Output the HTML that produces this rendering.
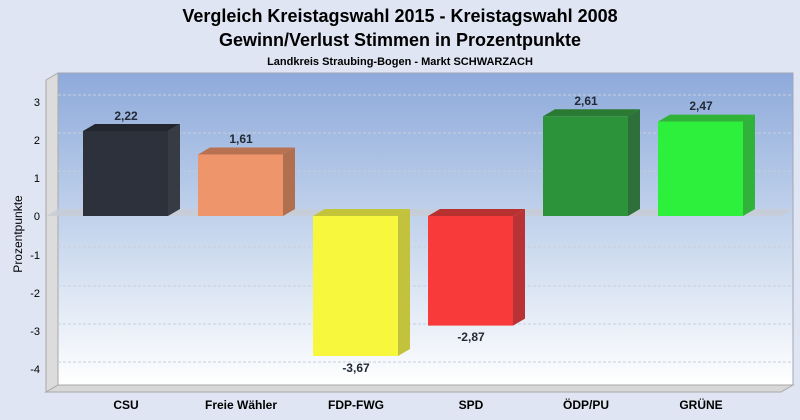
<!DOCTYPE html>
<html><head><meta charset="utf-8"><style>
body{margin:0;background:#dfe5f3;}
svg{display:block;font-family:"Liberation Sans",sans-serif;}
</style></head><body>
<svg width="800" height="420" xmlns="http://www.w3.org/2000/svg">
<defs>
<linearGradient id="bg" x1="0" y1="0" x2="0" y2="1">
<stop offset="0" stop-color="#8eaadb"/><stop offset="0.5" stop-color="#c5d5ec"/><stop offset="1" stop-color="#ffffff"/>
</linearGradient>
</defs>
<rect width="800" height="420" fill="#dfe5f3"/>
<text x="400" y="22" text-anchor="middle" font-size="18" font-weight="bold" fill="#000">Vergleich Kreistagswahl 2015 - Kreistagswahl 2008</text>
<text x="400" y="46" text-anchor="middle" font-size="18" font-weight="bold" fill="#000">Gewinn/Verlust Stimmen in Prozentpunkte</text>
<text x="400" y="65" text-anchor="middle" font-size="11" font-weight="bold" fill="#000">Landkreis Straubing-Bogen - Markt SCHWARZACH</text>
<!-- back plane -->
<rect x="58" y="73" width="735" height="312" fill="url(#bg)" stroke="#a0a8b8" stroke-width="1"/>
<!-- left wall -->
<polygon points="46,80 58,73 58,385 46,392" fill="#dcdcdc" stroke="#a8a8a8"/>
<!-- floor -->
<polygon points="46,392 58,385 793,385 781,392" fill="#d8d8d8" stroke="#a8a8a8"/>
<!-- gridlines -->
<g stroke="#c8cfdc" stroke-dasharray="3,2" stroke-width="1">
<line x1="58" y1="95" x2="793" y2="95"/><line x1="58" y1="133" x2="793" y2="133"/>
<line x1="58" y1="171" x2="793" y2="171"/><line x1="58" y1="247" x2="793" y2="247"/>
<line x1="58" y1="286" x2="793" y2="286"/><line x1="58" y1="324" x2="793" y2="324"/>
<line x1="58" y1="362" x2="793" y2="362"/>
</g>
<!-- zero plane -->
<polygon points="46,216 58,209 793,209 781,216" fill="#c8ccd4" opacity="0.8"/>
<!-- ticks -->
<g font-size="11" fill="#000" text-anchor="end">
<text x="40" y="106">3</text><text x="40" y="144">2</text><text x="40" y="182">1</text><text x="40" y="220">0</text>
<text x="40" y="259">-1</text><text x="40" y="297">-2</text><text x="40" y="335">-3</text><text x="40" y="373">-4</text>
</g>
<text transform="translate(22,234) rotate(-90)" text-anchor="middle" font-size="12" fill="#000">Prozentpunkte</text>
<!-- bars: front x, width 85, depth 12,-7 -->
<g>
<!-- CSU 2.22 top 131 -->
<polygon points="83,131 95,124 180,124 168,131" fill="#22272f"/>
<polygon points="168,131 180,124 180,209 168,216" fill="#363b44"/>
<rect x="83" y="131" width="85" height="85" fill="#2c313b"/>
<!-- Freie 1.61 top 154.5 -->
<polygon points="198,154.5 210,147.5 295,147.5 283,154.5" fill="#b87252"/>
<polygon points="283,154.5 295,147.5 295,209 283,216" fill="#b0704f"/>
<rect x="198" y="154.5" width="85" height="61.5" fill="#ef956b"/>
<!-- FDP -3.67 bottom 356 -->
<polygon points="313,216 325,209 410,209 398,216" fill="#c4c43a"/>
<polygon points="398,216 410,209 410,349 398,356" fill="#c2c23c"/>
<rect x="313" y="216" width="85" height="140" fill="#f7f73e"/>
<!-- SPD -2.87 bottom 325.6 -->
<polygon points="428,216 440,209 525,209 513,216" fill="#b83030"/>
<polygon points="513,216 525,209 525,318.6 513,325.6" fill="#b93236"/>
<rect x="428" y="216" width="85" height="109.6" fill="#f83a3a"/>
<!-- ODP 2.61 top 116.3 -->
<polygon points="543,116.3 555,109.3 640,109.3 628,116.3" fill="#2a7a32"/>
<polygon points="628,116.3 640,109.3 640,209 628,216" fill="#2e703a"/>
<rect x="543" y="116.3" width="85" height="99.7" fill="#2d933a"/>
<!-- GRUENE 2.47 top 121.6 -->
<polygon points="658,121.6 670,114.6 755,114.6 743,121.6" fill="#30b438"/>
<polygon points="743,121.6 755,114.6 755,209 743,216" fill="#2fb33a"/>
<rect x="658" y="121.6" width="85" height="94.4" fill="#2cf03c"/>
</g>
<!-- value labels -->
<g font-size="12" font-weight="bold" fill="#222a35" text-anchor="middle">
<text x="126" y="120">2,22</text><text x="241" y="143">1,61</text>
<text x="356" y="372">-3,67</text><text x="471" y="341">-2,87</text>
<text x="586" y="105">2,61</text><text x="701" y="110">2,47</text>
</g>
<!-- categories -->
<g font-size="12" font-weight="bold" fill="#000" text-anchor="middle">
<text x="126" y="409">CSU</text><text x="241" y="409">Freie Wähler</text><text x="356" y="409">FDP-FWG</text>
<text x="471" y="409">SPD</text><text x="586" y="409">ÖDP/PU</text><text x="701" y="409">GRÜNE</text>
</g>
</svg>
</body></html>
